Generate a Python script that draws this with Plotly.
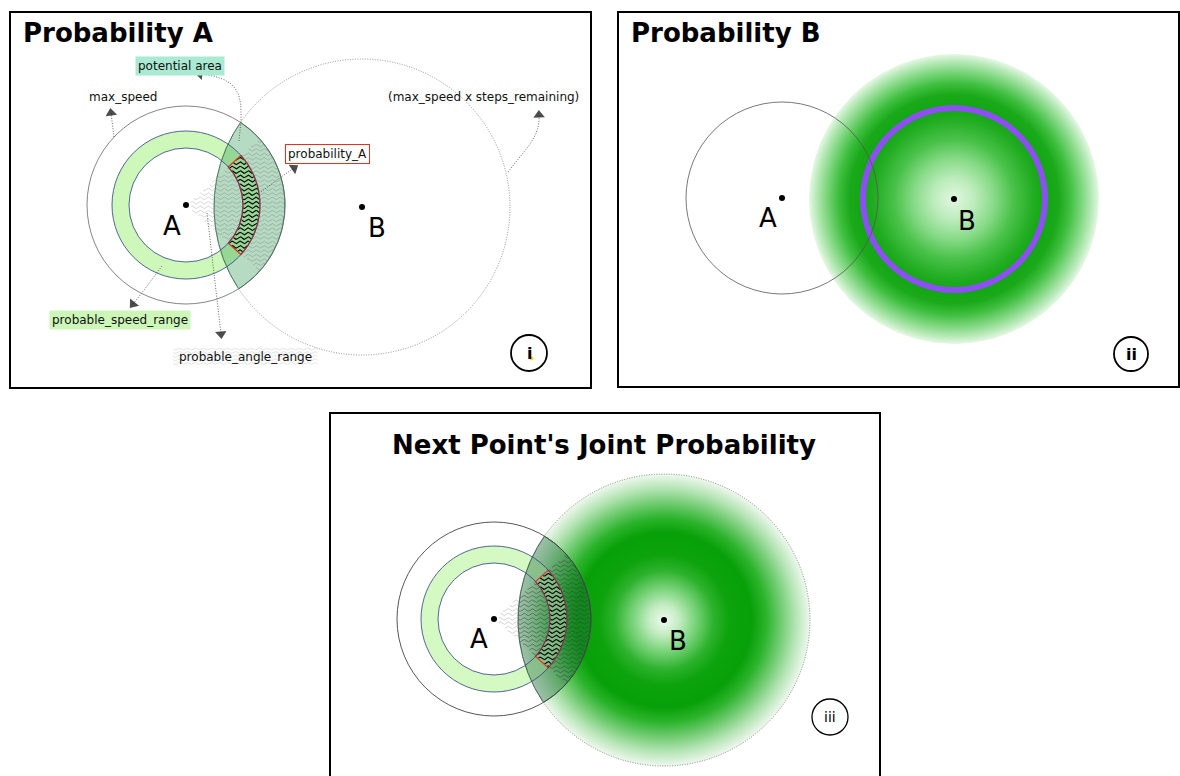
import numpy as np
import plotly.graph_objects as go

W, H = 1180, 776

# ---------------- data / geometry (pixel units) ----------------
panel_frames = [[10, 12, 591, 388], [618, 12, 1179, 387], [330, 413, 880, 779]]
panel_titles = ["Probability A", "Probability B", "Next Point's Joint Probability"]
title_xy = [(21, 33, "left"), (629, 33, "left"), (604, 445, "center")]
badge_text = ["i", "ii", "iii"]
badge_xy = [(529, 353), (1131, 354), (830, 717)]
badge_r = [18, 17, 18]

A_pts = [(186, 205), (782, 198), (494, 619)]
B_pts = [(362, 207), (954, 199), (664, 620)]
A_label_xy = [(172, 226), (768, 218), (479, 639)]
B_label_xy = [(377, 228), (967, 221), (678, 641)]

max_speed_r = [99, 96, 97]
reach_r = [148, 145, 146]
speed_ring_r = [57, 74]
angle_half_deg = 42
purple_ring_r = 91

gradB_stops = [0, 0.14, 0.28, 0.41, 0.55, 0.63, 0.72, 0.8, 0.88, 0.95, 1.0]
gradB_cols = ["#e2f7e2", "#bdecbd", "#86da86", "#4ac24a", "#22ad22", "#12a612",
              "#1aa91a", "#3fbf3f", "#7dd67d", "#b7e9b7", "#e6f8e6"]
gradJ_stops = [0, 0.1, 0.22, 0.34, 0.45, 0.6, 0.7, 0.8, 0.9, 1.0]
gradJ_cols = ["#eefaee", "#c4edc4", "#76d276", "#2db22d", "#0ca30c", "#08a008",
              "#2cb42c", "#6fcb6f", "#b3e4b3", "#eef8ee"]

labels_text = ["potential area", "max_speed", "(max_speed x steps_remaining)",
               "probability_A", "probable_speed_range", "probable_angle_range"]
labels_xy = [(180, 66), (123, 97), (483, 97), (327, 154), (120, 320), (245, 357)]
labels_bg = ["#aae9d2", None, None, "white", "#ccf7b8", "rgba(0,0,0,0)"]
labels_border = [None, None, None, "#e8301c", None, None]

# arrows: cubic bezier control points (start ... arrow tip)
arrows = [
    [(114, 137), (113, 128), (112, 120), (111, 113)],
    [(239, 141), (245, 95), (241, 78), (200, 74)],
    [(508, 172), (526, 150), (541, 135), (539, 115)],
    [(261, 192), (272, 183), (284, 175), (294, 168)],
    [(162, 266), (152, 280), (142, 293), (133, 304)],
    [(207, 213), (212, 255), (217, 295), (221, 334)],
]

# ---------------- helpers ----------------
def circ(c, r, t):
    return c[0] + r * np.cos(t), c[1] + r * np.sin(t)

def lens(A, rA, B, rB, n=120):
    d = np.hypot(B[0] - A[0], B[1] - A[1])
    phi = np.arctan2(B[1] - A[1], B[0] - A[0])
    a = (d * d + rA * rA - rB * rB) / (2 * d)
    h = np.sqrt(rA * rA - a * a)
    tA = np.arctan2(h, a)
    tB = np.arctan2(h, d - a)
    t1 = phi + np.linspace(-tA, tA, n)
    t2 = phi + np.linspace(np.pi - tB, np.pi + tB, n)
    x1, y1 = circ(A, rA, t1)
    x2, y2 = circ(B, rB, t2)
    return np.r_[x1, x2, x1[:1]], np.r_[y1, y2, y1[:1]]

def annulus(c, r_in, r_out, t0=0, t1=2 * np.pi, n=240):
    t = np.linspace(t0, t1, n)
    xo, yo = circ(c, r_out, t)
    xi, yi = circ(c, r_in, t[::-1])
    return np.r_[xo, xi, xo[:1]], np.r_[yo, yi, yo[:1]]

def bezier(P, n=60):
    P = np.array(P, dtype=float)
    t = np.linspace(0, 1, n)[:, None]
    pts = ((1 - t) ** 3) * P[0] + 3 * ((1 - t) ** 2) * t * P[1] + 3 * (1 - t) * t * t * P[2] + (t ** 3) * P[3]
    return pts[:, 0], pts[:, 1]

def wave_sets(A, B, rA, rB, half, r_in, r_out, spacing=4.4, amp=1.3, lam=8.0):
    half_r = np.radians(half)
    out = {"light": ([], []), "mid": ([], []), "dark": ([], [])}
    for y0 in np.arange(A[1] - rA, A[1] + rA + 0.1, spacing):
        xs = np.arange(A[0], A[0] + rA + 1, 0.5)
        ys = y0 + amp * np.sin(2 * np.pi * (xs - A[0]) / lam)
        dx, dy = xs - A[0], ys - A[1]
        r = np.hypot(dx, dy)
        ang = np.abs(np.arctan2(dy, dx))
        inside = (r <= rA) & (ang <= half_r) & (r > 5)
        inB = np.hypot(xs - B[0], ys - B[1]) <= rB
        red = inside & (r >= r_in) & (r <= r_out)
        mid = inside & ~red & inB
        light = inside & ~red & ~inB
        for key, m in (("light", light), ("mid", mid), ("dark", red)):
            out[key][0].extend(np.where(m, xs, np.nan).tolist() + [np.nan])
            out[key][1].extend(np.where(m, ys, np.nan).tolist() + [np.nan])
    return out

def rect_waves(x0, x1, y0, y1, spacing=3.6, amp=1.0, lam=8.0):
    X, Y = [], []
    for yy in np.arange(y0 + 2, y1 - 1, spacing):
        xs = np.arange(x0, x1, 0.5)
        X.extend(xs.tolist() + [np.nan])
        Y.extend((yy + amp * np.sin(2 * np.pi * (xs - x0) / lam)).tolist() + [np.nan])
    return X, Y

fig = go.Figure()
shapes = []
annos = []

def add_poly(x, y, fill, line_color=None, line_width=0, **kw):
    fig.add_trace(go.Scatter(x=x, y=y, mode="lines", fill="toself", fillcolor=fill,
                             line=dict(color=line_color or "rgba(0,0,0,0)", width=line_width),
                             hoverinfo="skip", showlegend=False, **kw))

def add_circle_shape(c, r, color, width, dash="solid"):
    shapes.append(dict(type="circle", xref="x", yref="y", x0=c[0] - r, x1=c[0] + r,
                       y0=c[1] - r, y1=c[1] + r, line=dict(color=color, width=width, dash=dash),
                       layer="above"))

def add_waves(ws, colors=("#bdbdbd", "#8f8f8f", "#000000"), widths=(0.6, 0.55, 1.1)):
    for key, col, w in zip(("light", "mid", "dark"), colors, widths):
        fig.add_trace(go.Scatter(x=ws[key][0], y=ws[key][1], mode="lines",
                                 line=dict(color=col, width=w), hoverinfo="skip", showlegend=False))

half_r = np.radians(angle_half_deg)

# ---------------- Panel i ----------------
A, B = A_pts[0], B_pts[0]
x, y = annulus(A, speed_ring_r[0], speed_ring_r[1])
add_poly(x, y, "#cdf8b9")
x, y = lens(A, max_speed_r[0], B, reach_r[0])
add_poly(x, y, "rgba(60,160,95,0.38)", "#2e6b48", 0.9)
add_waves(wave_sets(A, B, max_speed_r[0], reach_r[0], angle_half_deg, *speed_ring_r))
x, y = annulus(A, speed_ring_r[0], speed_ring_r[1], -half_r, half_r, 80)
fig.add_trace(go.Scatter(x=x, y=y, mode="lines", line=dict(color="#e8301c", width=1.3),
                         hoverinfo="skip", showlegend=False))
add_circle_shape(A, max_speed_r[0], "#666", 0.8)
add_circle_shape(A, speed_ring_r[0], "#2c3d86", 0.8)
add_circle_shape(A, speed_ring_r[1], "#2c3d86", 0.8)
add_circle_shape(B, reach_r[0], "#777", 0.8, "1px,1.5px")
# angle-range label wave background
X, Y = rect_waves(173, 318, 347, 366)
fig.add_trace(go.Scatter(x=X, y=Y, mode="lines", line=dict(color="#d2d2d2", width=0.6),
                         hoverinfo="skip", showlegend=False))

# ---------------- Panel ii ----------------
A, B = A_pts[1], B_pts[1]
t = np.linspace(0, 2 * np.pi, 240)
x, y = circ(B, reach_r[1], t)
fig.add_trace(go.Scatter(x=x, y=y, mode="lines", fill="toself",
                         fillgradient=dict(type="radial", colorscale=[[s, c] for s, c in zip(gradB_stops, gradB_cols)]),
                         line=dict(width=0, color="rgba(0,0,0,0)"), hoverinfo="skip", showlegend=False))
add_circle_shape(B, purple_ring_r, "#8c4ff2", 6)
add_circle_shape(A, max_speed_r[1], "#555", 0.8)

# ---------------- Panel iii ----------------
A, B = A_pts[2], B_pts[2]
x, y = circ(B, reach_r[2], t)
fig.add_trace(go.Scatter(x=x, y=y, mode="lines", fill="toself",
                         fillgradient=dict(type="radial", colorscale=[[s, c] for s, c in zip(gradJ_stops, gradJ_cols)]),
                         line=dict(width=0, color="rgba(0,0,0,0)"), hoverinfo="skip", showlegend=False))
x, y = annulus(A, speed_ring_r[0] - 1, speed_ring_r[1] - 1)
add_poly(x, y, "rgba(205,248,185,0.85)")
x, y = lens(A, max_speed_r[2], B, reach_r[2])
add_poly(x, y, "rgba(30,100,60,0.38)", "#2a5a3c", 0.9)
add_waves(wave_sets(A, B, max_speed_r[2], reach_r[2], angle_half_deg, speed_ring_r[0] - 1, speed_ring_r[1] - 1),
          colors=("#b5b5b5", "#3c3c3c", "#000000"))
x, y = annulus(A, speed_ring_r[0] - 1, speed_ring_r[1] - 1, -half_r, half_r, 80)
fig.add_trace(go.Scatter(x=x, y=y, mode="lines", line=dict(color="#e8301c", width=1.2),
                         hoverinfo="skip", showlegend=False))
add_circle_shape(A, max_speed_r[2], "#444", 0.9)
add_circle_shape(A, speed_ring_r[0] - 1, "#2c3d86", 0.8)
add_circle_shape(A, speed_ring_r[1] - 1, "#2c3d86", 0.8)
add_circle_shape(B, reach_r[2], "#666", 0.8, "1px,1.5px")

# ---------------- points & letters ----------------
px = [p[0] for p in A_pts + B_pts]
py = [p[1] for p in A_pts + B_pts]
fig.add_trace(go.Scatter(x=px, y=py, mode="markers", marker=dict(color="black", size=6),
                         hoverinfo="skip", showlegend=False))
for (lx, ly) in A_label_xy:
    annos.append(dict(x=lx, y=ly, text="A", showarrow=False, font=dict(size=26, color="black")))
for (lx, ly) in B_label_xy:
    annos.append(dict(x=lx, y=ly, text="B", showarrow=False, font=dict(size=26, color="black")))

# ---------------- arrows ----------------
for P in arrows:
    bx, by = bezier(P)
    fig.add_trace(go.Scatter(x=bx, y=by, mode="lines", line=dict(color="#555", width=0.9, dash="1px,1.6px"),
                             hoverinfo="skip", showlegend=False))
    fig.add_trace(go.Scatter(x=[bx[-5], bx[-1]], y=[by[-5], by[-1]], mode="markers",
                             marker=dict(symbol="triangle-up", size=[0, 10], color="black", angleref="previous",
                                         line=dict(width=0)),
                             hoverinfo="skip", showlegend=False))

# ---------------- labels ----------------
for txt, (lx, ly), bg, bc in zip(labels_text, labels_xy, labels_bg, labels_border):
    a = dict(x=lx, y=ly, text=txt, showarrow=False, font=dict(size=12, color="#111"),
             borderpad=2)
    if bg:
        a["bgcolor"] = bg
    if bc:
        a["bordercolor"] = bc
        a["borderwidth"] = 1
    annos.append(a)

# ---------------- frames, titles, badges ----------------
for (x0, y0, x1, y1) in panel_frames:
    shapes.append(dict(type="rect", xref="x", yref="y", x0=x0, y0=y0, x1=x1, y1=y1,
                       line=dict(color="black", width=2), layer="above"))
for txt, (tx, ty, anc) in zip(panel_titles, title_xy):
    annos.append(dict(x=tx, y=ty, text="<b>" + txt + "</b>", showarrow=False, xanchor=anc,
                      font=dict(size=26, color="black")))
for i, (txt, (cx, cy), r) in enumerate(zip(badge_text, badge_xy, badge_r)):
    add_circle_shape((cx, cy), r, "black", 1.8 if i < 2 else 1.3)
    annos.append(dict(x=cx, y=cy, text=("<b>" + txt + "</b>") if i < 2 else txt, showarrow=False,
                      font=dict(size=16 if i < 2 else 14, color="black")))
fig.add_trace(go.Scatter(x=[531.5], y=[358.5], mode="markers", marker=dict(color="#f2e200", size=4),
                         hoverinfo="skip", showlegend=False))

fig.update_layout(
    width=W, height=H, margin=dict(l=0, r=0, t=0, b=0),
    paper_bgcolor="white", plot_bgcolor="white",
    font=dict(family="DejaVu Sans", color="black"),
    xaxis=dict(range=[0, W], visible=False, fixedrange=True),
    yaxis=dict(range=[H, 0], visible=False, fixedrange=True),
    shapes=shapes, annotations=annos, showlegend=False,
)

fig.write_html("out.html", config={"displayModeBar": False},
               post_script="document.body.style.margin='0';document.body.style.overflow='hidden';")
